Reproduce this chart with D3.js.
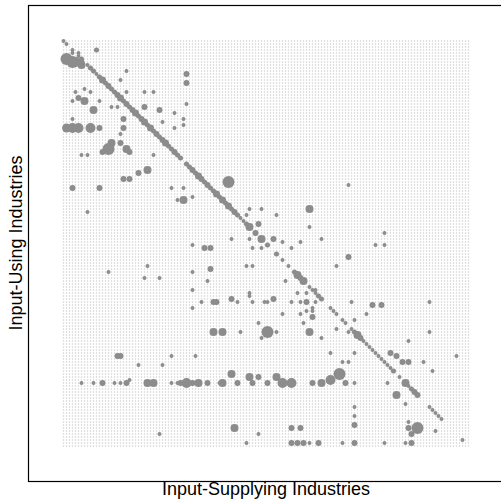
<!DOCTYPE html>
<html>
<head>
<meta charset="utf-8">
<script src="https://cdn.jsdelivr.net/npm/d3@7"></script>
<style>
  body { margin: 0; background: #fff; }
  svg { display: block; }
</style>
</head>
<body>
<div class="chart"></div>
<script>
// number of industries (rows and columns of the matrix)
var nIndustries = 136;

// own-industry flows on the diagonal: industry number and flow size
var diagIndustry = [1, 2, 4, 6, 7,
    9, 10, 11, 12, 13, 14, 15, 16, 17, 18, 19, 20, 21, 22, 23, 24, 25, 26, 27, 28, 29, 30,
    31, 32, 33, 34, 35, 36, 37, 38, 39, 40,
    42, 43, 44, 45, 46, 47, 48, 49, 50, 51, 52, 53, 54, 55, 56, 57, 58, 59, 60, 61, 62,
    63, 65, 67, 69, 72, 74, 76, 78, 79, 80, 81, 83, 84, 85, 86, 87, 90, 91, 92, 94, 95,
    97, 98, 99, 100, 101, 102, 103, 104, 105, 106, 107, 108, 109, 110, 111, 113, 115,
    116, 117, 118, 119, 123, 124, 125, 126, 127, 134];
var diagValue = [8, 8, 8, 8, 13,
    8, 13, 13, 8, 13, 25, 13, 18, 13, 13, 18, 25, 13, 18, 13, 18, 25, 13, 18, 25, 13, 25,
    13, 18, 13, 18, 25, 13, 13, 18, 13, 13,
    13, 13, 18, 13, 25, 18, 13, 18, 13, 13, 25, 13, 25, 13, 25, 13, 18, 13, 8, 8, 13,
    33, 18, 33, 13, 13, 8, 8, 13, 33, 18, 33, 8, 8, 8, 13, 13, 8, 8, 8, 8, 8,
    8, 13, 33, 18, 8, 8, 8, 8, 8, 8, 8, 8, 8, 8, 13, 8, 33,
    8, 13, 18, 18, 8, 8, 8, 8, 8, 8];

// flows between different industries
var supplier = [12, 2, 4, 5, 7, 4, 6, 7, 22, 20, 5, 6, 8, 8, 10, 4,
    2, 4, 6, 10, 13, 11, 13, 17, 19, 28, 31, 22, 28, 33, 38, 4, 21, 21, 20, 34, 41, 38, 41,
    42, 42, 42, 17, 20, 14, 16, 7, 9, 22, 23, 31,
    21, 23, 26, 29, 4, 13, 9, 37, 39, 41, 44, 41, 56,
    63, 67, 72, 62, 83, 83, 66, 63, 64, 67, 71, 74, 77, 80, 87, 57, 44, 48, 50, 50, 44, 62,
    64, 92, 75, 49, 44, 79, 82, 85,
    47, 51, 52, 57, 59, 63, 63, 64, 68, 71, 69, 77, 80, 82, 84, 44, 96, 85, 97, 102, 74, 80,
    82, 84, 84, 81, 66, 69, 72, 67, 83, 87, 92, 96, 98, 98, 90, 94, 96,
    19, 20, 37, 45, 26, 34,
    7, 11, 14, 18, 20, 22, 23, 29, 31, 37, 39, 40, 42, 44, 46, 49, 53, 54, 57, 59, 63, 64,
    66, 69, 72, 74, 77, 84, 87, 90, 93, 95, 98,
    51, 54, 60, 58, 33, 62, 66,
    77, 79, 81, 83, 86, 94, 98, 108, 115, 117, 77, 80, 98, 98, 98, 112, 109, 115, 116, 119,
    116, 117, 125,
    96, 108, 105, 108, 104, 107, 123, 116, 123, 132, 110, 112, 114, 116, 121, 124,
    16, 29, 28, 33];
var user = [4, 7, 8, 8, 9, 5, 5, 8, 11, 14, 18, 20, 21, 17, 18, 21,
    30, 30, 30, 30, 30, 24, 21, 23, 23, 18, 18, 18, 23, 24, 25, 27, 27, 30, 32, 28, 27, 30, 29,
    12, 15, 22, 35, 35, 38, 37, 39, 39, 37, 38, 39,
    47, 47, 45, 44, 50, 50, 58, 50, 54, 50, 53, 54, 48,
    57, 57, 59, 59, 57, 63, 62, 67, 70, 70, 67, 68, 70, 68, 67, 67, 69, 70, 70, 77, 78, 76,
    76, 76, 81, 81, 84, 85, 85, 84,
    88, 88, 88, 87, 88, 86, 85, 88, 88, 87, 88, 88, 88, 88, 90, 90, 73, 88, 88, 92, 92, 92,
    91, 91, 93, 95, 95, 98, 98, 100, 98, 100, 97, 98, 94, 105, 105, 108, 108,
    106, 106, 106, 106, 109, 109,
    115, 115, 115, 115, 115, 115, 114, 115, 115, 115, 115, 115, 115, 115, 115, 115, 115, 115,
    112, 115, 113, 115, 113, 115, 113, 115, 115, 115, 115, 114, 112, 115, 115,
    98, 98, 98, 130, 132, 135, 132,
    135, 135, 135, 135, 135, 135, 135, 135, 135, 135, 130, 130, 123, 126, 129, 119, 115, 122,
    128, 130, 130, 132, 131,
    49, 65, 69, 69, 89, 89, 88, 101, 98, 106, 105, 106, 108, 108, 108, 111,
    78, 76, 80, 80];
var flow = [13, 73, 73, 51, 33, 8, 8, 18, 8, 8, 8, 18, 33, 8, 8, 8,
    40, 51, 51, 51, 18, 33, 8, 8, 8, 8, 8, 8, 18, 18, 8, 8, 18, 18, 8, 8, 8, 8, 8,
    18, 18, 8, 33, 18, 18, 73, 8, 8, 33, 18, 8,
    18, 18, 18, 33, 18, 18, 8, 8, 8, 8, 8, 33, 73,
    8, 8, 8, 8, 33, 8, 18, 8, 8, 8, 18, 8, 8, 8, 8, 8, 8, 18, 18, 18, 8, 8,
    8, 8, 8, 8, 8, 8, 8, 8,
    8, 18, 18, 18, 8, 8, 8, 8, 8, 18, 8, 8, 8, 18, 8, 8, 18, 8, 8, 8, 8, 8,
    8, 8, 18, 8, 8, 73, 8, 8, 33, 8, 8, 8, 8, 8, 8, 8, 8,
    18, 18, 8, 8, 8, 8,
    8, 8, 18, 8, 8, 18, 8, 33, 33, 8, 8, 18, 51, 18, 33, 18, 8, 33, 33, 18, 33, 18,
    18, 18, 33, 51, 51, 18, 33, 51, 73, 18, 8,
    33, 33, 8, 33, 8, 8, 8,
    18, 18, 18, 8, 18, 8, 18, 8, 8, 18, 18, 18, 8, 8, 18, 33, 8, 8, 8, 73,
    18, 18, 8,
    8, 8, 8, 8, 18, 18, 8, 8, 8, 8, 18, 18, 18, 18, 8, 8,
    8, 8, 8, 8];

var width = 501, height = 501;

var svg = d3.select('div.chart')
    .append('svg')
    .attr('width', width)
    .attr('height', height);

var x = d3.scaleLinear().domain([1, nIndustries]).range([63.5, 468.5]);
var y = d3.scaleLinear().domain([1, nIndustries]).range([41, 446]);
var r = d3.scaleSqrt().domain([0, 100]).range([0, 7]);

// background lattice of every industry pair
var cells = [];
for (var i = 1; i <= nIndustries; i++) {
    for (var j = 1; j <= nIndustries; j++) {
        cells.push([i, j]);
    }
}
svg.append('g')
    .selectAll('circle')
    .data(cells)
    .enter()
    .append('circle')
    .attr('cx', function (d) { return x(d[0]); })
    .attr('cy', function (d) { return y(d[1]); })
    .attr('r', 0.75)
    .attr('fill', '#cfcfcf');

var flows = [];
diagIndustry.forEach(function (k, i) {
    flows.push({ s: k, u: k, v: diagValue[i] });
});
supplier.forEach(function (s, i) {
    flows.push({ s: s, u: user[i], v: flow[i] });
});

svg.append('g')
    .selectAll('circle')
    .data(flows)
    .enter()
    .append('circle')
    .attr('cx', function (d) { return x(d.s); })
    .attr('cy', function (d) { return y(d.u); })
    .attr('r', function (d) { return r(d.v); })
    .attr('fill', '#8c8c8c');

// frame (right side falls outside the picture)
svg.append('rect')
    .attr('x', 28.5)
    .attr('y', 5.5)
    .attr('width', 475)
    .attr('height', 476)
    .attr('fill', 'none')
    .attr('stroke', '#000')
    .attr('stroke-width', 1.2);

svg.append('text')
    .attr('x', 266)
    .attr('y', 495)
    .attr('text-anchor', 'middle')
    .style('font-family', 'Liberation Sans, Arial, sans-serif')
    .style('font-size', '18px')
    .text('Input-Supplying Industries');

svg.append('text')
    .attr('transform', 'translate(22,243) rotate(-90)')
    .attr('text-anchor', 'middle')
    .style('font-family', 'Liberation Sans, Arial, sans-serif')
    .style('font-size', '18px')
    .text('Input-Using Industries');
</script>
</body>
</html>
